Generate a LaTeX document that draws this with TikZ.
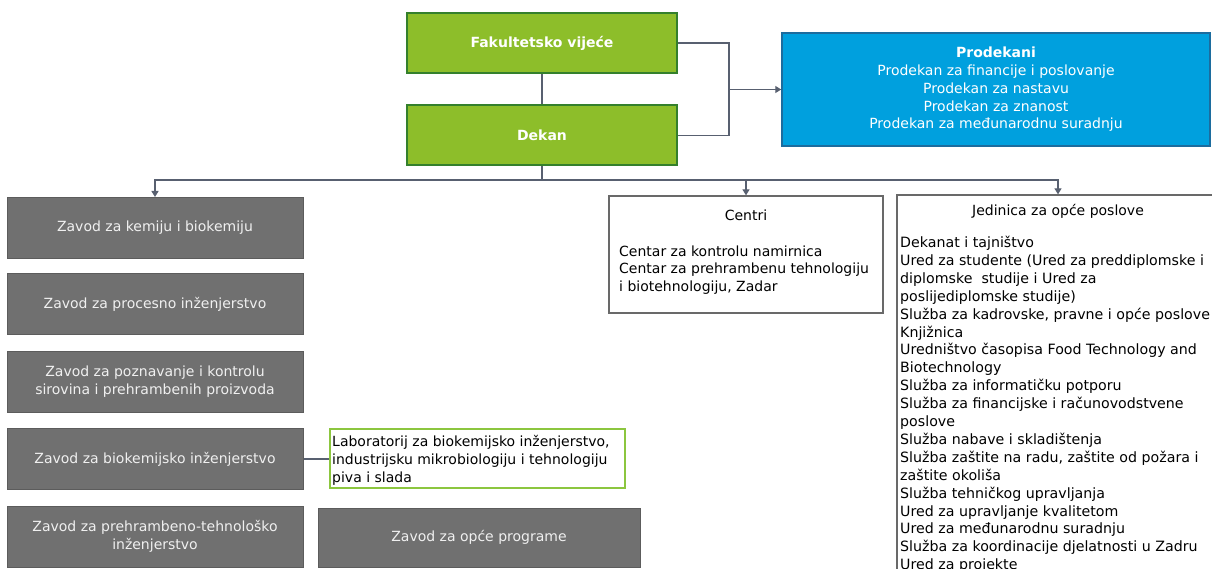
\documentclass[tikz,border=0pt]{standalone}
\usepackage{fontspec}
\setmainfont{DejaVu Sans}
\usetikzlibrary{arrows.meta}

\definecolor{leafgreen}{RGB}{141,190,42}
\definecolor{darkleaf}{RGB}{52,128,44}
\definecolor{skyblue}{RGB}{0,160,222}
\definecolor{deepblue}{RGB}{28,108,158}
\definecolor{unitgray}{RGB}{112,112,112}
\definecolor{unitedge}{RGB}{92,92,92}
\definecolor{unittext}{RGB}{240,240,240}
\definecolor{linkslate}{RGB}{88,96,112}
\definecolor{labgreen}{RGB}{140,198,63}
\definecolor{framegray}{RGB}{105,105,105}

\begin{document}
\begin{tikzpicture}[x=1pt,y=-1pt,
  every node/.style={inner sep=0pt, font=\fontsize{14}{18}\selectfont},
  lead/.style={draw=darkleaf, line width=2pt, fill=leafgreen, text=white,
    font=\fontsize{14}{18}\selectfont\bfseries, minimum width=270pt, minimum height=60pt},
  deans/.style={draw=deepblue, line width=1.5pt, fill=skyblue, text=white,
    align=center, font=\fontsize{14}{17.7}\selectfont, minimum width=428pt, minimum height=113pt},
  dept/.style={draw=unitedge, line width=1pt, fill=unitgray, text=unittext,
    align=center, font=\fontsize{14}{18}\selectfont, minimum width=296pt, minimum height=61pt},
  labbox/.style={draw=labgreen, line width=2pt, fill=white, minimum width=295pt, minimum height=59pt},
  unitbox/.style={draw=framegray, line width=1.3pt, fill=white},
  listtext/.style={anchor=north west, align=left},
  link/.style={draw=linkslate, line width=1.3pt},
  arrow/.style={link, -{Triangle[length=6pt,width=7pt]}}
]
\useasboundingbox (0,0) rectangle (1212,569);
\clip (0,0) rectangle (1212,569);
\fill[white] (0,0) rectangle (1212,569);

% leadership
\node[lead] (fak) at (542,43) {Fakultetsko vijeće};
\node[lead] (dek) at (542,135.5) {Dekan};
\node[deans] (prod) at (996,89.5) {\textbf{Prodekani}\\Prodekan za financije i poslovanje\\Prodekan za nastavu\\Prodekan za znanost\\Prodekan za međunarodnu suradnju};

% departments
\node[dept] (z1) at (155,228) {Zavod za kemiju i biokemiju};
\node[dept] (z2) at (155,304) {Zavod za procesno inženjerstvo};
\node[dept] (z3) at (155,381.5) {Zavod za poznavanje i kontrolu\\sirovina i prehrambenih proizvoda};
\node[dept] (z4) at (155,459) {Zavod za biokemijsko inženjerstvo};
\node[dept] (z5) at (155,536.5) {Zavod za prehrambeno-tehnološko\\inženjerstvo};
\node[dept, minimum width=322pt, minimum height=59pt] (zop) at (479,537.5) {Zavod za opće programe};

% laboratory
\node[labbox] (lab) at (477.5,458.5) {};
\node[anchor=west, align=left] (labtext) at ([xshift=3pt,yshift=-2pt]lab.west) {Laboratorij za biokemijsko inženjerstvo,\\industrijsku mikrobiologiju i tehnologiju\\piva i slada};

% centres
\node[unitbox, minimum width=274pt, minimum height=117pt] (centri) at (746,254.5) {};
\node[anchor=base] (ctitle) at (746,220.5) {Centri};
\node[listtext, font=\fontsize{14}{17.5}\selectfont] (clist) at (619,245.5) {Centar za kontrolu namirnica\\Centar za prehrambenu tehnologiju\\i biotehnologiju, Zadar};

% general affairs unit
\node[unitbox, minimum width=322pt, minimum height=405pt] (jed) at (1058,397.5) {};
\node[anchor=base] (jtitle) at (1058,215.5) {Jedinica za opće poslove};
\node[listtext, font=\fontsize{14.2}{17.9}\selectfont] (jlist) at (900,236) {Dekanat i tajništvo\\
Ured za studente (Ured za preddiplomske i\\
diplomske\ \ studije i Ured za\\
poslijediplomske studije)\\
Služba za kadrovske, pravne i opće poslove\\
Knjižnica\\
Uredništvo časopisa Food Technology and\\
Biotechnology\\
Služba za informatičku potporu\\
Služba za financijske i računovodstvene\\
poslove\\
Služba nabave i skladištenja\\
Služba zaštite na radu, zaštite od požara i\\
zaštite okoliša\\
Služba tehničkog upravljanja\\
Ured za upravljanje kvalitetom\\
Ured za međunarodnu suradnju\\
Služba za koordinacije djelatnosti u Zadru\\
Ured za projekte};

% connectors
\coordinate (join) at (729,89.5);
\coordinate (bus) at (542,180);
\draw[link] (fak) -- (dek);
\draw[link] (fak.east) -| (join) |- (dek.east);
\draw[arrow] (join) -- (prod.west);
\draw[link] (dek.south) -- (bus);
\draw[arrow] (bus) -| (z1.north);
\draw[arrow] (bus) -| (centri.north);
\draw[arrow] (bus) -| (jed.north);
\draw[link] (z4.east) -- (z4.east -| lab.west);
\end{tikzpicture}
\end{document}
